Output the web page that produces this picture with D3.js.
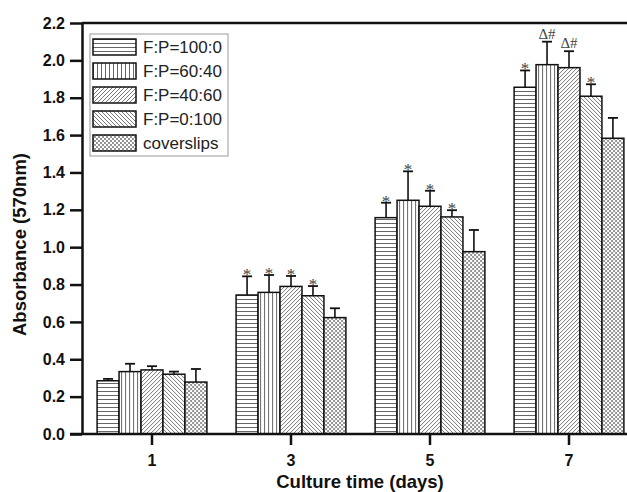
<!DOCTYPE html>
<html>
<head>
<meta charset="utf-8">
<script src="https://cdn.jsdelivr.net/npm/d3@7"></script>
<style>
  body { margin: 0; background: #fff; }
  svg { display: block; }
</style>
</head>
<body>
<svg id="chart" width="627" height="492"></svg>
<script>
// data
var days = ["1", "3", "5", "7"];
var groups = ["F:P=100:0", "F:P=60:40", "F:P=40:60", "F:P=0:100", "coverslips"];
var means = [
  [0.285, 0.334, 0.343, 0.320, 0.278],   // day 1
  [0.744, 0.758, 0.790, 0.740, 0.623],   // day 3
  [1.158, 1.251, 1.219, 1.162, 0.976],   // day 5
  [1.856, 1.977, 1.961, 1.808, 1.583]    // day 7
];
var errs = [
  [0.010, 0.042, 0.020, 0.014, 0.070],
  [0.100, 0.093, 0.056, 0.052, 0.050],
  [0.080, 0.155, 0.083, 0.036, 0.116],
  [0.090, 0.123, 0.088, 0.064, 0.109]
];
var marks = [
  ["", "", "", "", ""],
  ["*", "*", "*", "*", ""],
  ["*", "*", "*", "*", ""],
  ["*", "\u0394#", "\u0394#", "*", ""]
];
var yTicks = [0, 0.2, 0.4, 0.6, 0.8, 1.0, 1.2, 1.4, 1.6, 1.8, 2.0, 2.2];

var svg = d3.select("#chart"),
    margin = {top: 23, right: 0, bottom: 58, left: 82},
    width = +svg.attr("width") - margin.left - margin.right,
    height = +svg.attr("height") - margin.top - margin.bottom,
    g = svg.append("g").attr("transform", "translate(" + margin.left + "," + margin.top + ")");

// hatch patterns
var defs = svg.append("defs");
var hatchCol = "#666";
function pat(id, size, draw) {
  var p = defs.append("pattern").attr("id", id)
    .attr("patternUnits", "userSpaceOnUse")
    .attr("width", size).attr("height", size);
  p.append("rect").attr("width", size).attr("height", size).attr("fill", "#fff");
  draw(p);
}
pat("p0", 4, function(p) {
  p.append("line").attr("x1", 0).attr("x2", 4).attr("y1", 0.5).attr("y2", 0.5)
    .attr("stroke", hatchCol).attr("stroke-width", 1);
});
pat("p1", 4, function(p) {
  p.append("line").attr("y1", 0).attr("y2", 4).attr("x1", 0.5).attr("x2", 0.5)
    .attr("stroke", hatchCol).attr("stroke-width", 1);
});
pat("p2", 4, function(p) {
  p.append("path").attr("d", "M-1,1 l2,-2 M0,4 l4,-4 M3,5 l2,-2")
    .attr("stroke", hatchCol).attr("stroke-width", 0.9);
});
pat("p3", 4, function(p) {
  p.append("path").attr("d", "M-1,3 l2,2 M0,0 l4,4 M3,-1 l2,2")
    .attr("stroke", hatchCol).attr("stroke-width", 0.9);
});
pat("p4", 4, function(p) {
  p.append("path").attr("d", "M-1,1 l2,-2 M0,4 l4,-4 M3,5 l2,-2 M-1,3 l2,2 M0,0 l4,4 M3,-1 l2,2")
    .attr("stroke", hatchCol).attr("stroke-width", 0.7);
});

var x0 = d3.scaleBand()
    .domain(days)
    .range([0.5, 556.5])
    .paddingInner(0.21)
    .paddingOuter(0.105);

var x1 = d3.scaleBand()
    .domain(d3.range(groups.length))
    .range([0, x0.bandwidth()]);

var y = d3.scaleLinear()
    .domain([0, 2.2])
    .range([height, 0]);

// bars
var dayG = g.append("g").selectAll("g")
  .data(days)
  .enter().append("g")
    .attr("transform", function(d) { return "translate(" + x0(d) + ",0)"; });

var items = dayG.selectAll("g")
  .data(function(d, i) {
    return groups.map(function(s, j) { return {j: j, v: means[i][j], e: errs[i][j], m: marks[i][j]}; });
  })
  .enter().append("g");

// error bars (upper only)
items.append("line")
    .attr("x1", function(d) { return x1(d.j) + x1.bandwidth() / 2; })
    .attr("x2", function(d) { return x1(d.j) + x1.bandwidth() / 2; })
    .attr("y1", function(d) { return y(d.v); })
    .attr("y2", function(d) { return y(d.v + d.e); })
    .attr("stroke", "#111").attr("stroke-width", 1.6);
items.append("line")
    .attr("x1", function(d) { return x1(d.j) + x1.bandwidth() / 2 - 5; })
    .attr("x2", function(d) { return x1(d.j) + x1.bandwidth() / 2 + 5; })
    .attr("y1", function(d) { return y(d.v + d.e); })
    .attr("y2", function(d) { return y(d.v + d.e); })
    .attr("stroke", "#111").attr("stroke-width", 1.8);

items.append("rect")
    .attr("x", function(d) { return x1(d.j); })
    .attr("y", function(d) { return y(d.v); })
    .attr("width", x1.bandwidth())
    .attr("height", function(d) { return height - y(d.v); })
    .attr("fill", function(d) { return "url(#p" + d.j + ")"; })
    .attr("stroke", "#111").attr("stroke-width", 1.5);

// significance marks
items.filter(function(d) { return d.m; }).append("text")
    .attr("x", function(d) { return x1(d.j) + x1.bandwidth() / 2; })
    .attr("y", function(d) { return y(d.v + d.e) - (d.m === "*" ? -4 : 3); })
    .attr("text-anchor", "middle")
    .attr("font-family", "'Liberation Serif', 'DejaVu Serif', serif")
    .attr("font-size", function(d) { return d.m === "*" ? 17 : 15; })
    .attr("fill", "#444")
    .style("-webkit-font-smoothing", "antialiased")
    .text(function(d) { return d.m; });

// axes
var yAxis = g.append("g")
    .call(d3.axisLeft(y).tickValues(yTicks).tickFormat(d3.format(".1f")).tickSize(12).tickSizeOuter(0));
var xAxis = g.append("g")
    .attr("transform", "translate(0," + height + ")")
    .call(d3.axisBottom(x0).tickSize(11).tickSizeOuter(0));

[yAxis, xAxis].forEach(function(a) {
  a.select(".domain").attr("stroke", "#111").attr("stroke-width", 2.5);
  a.selectAll(".tick line").attr("stroke", "#111").attr("stroke-width", 2.5);
  a.selectAll("text")
    .attr("font-family", "'Liberation Sans', Arial, sans-serif")
    .attr("font-weight", "bold").attr("font-size", 16).attr("fill", "#111");
});
yAxis.selectAll(".tick text").attr("x", -17);
xAxis.selectAll(".tick text").attr("y", 21);
xAxis.select(".domain").attr("d", "M-12,0H" + width);

// top frame line
g.append("line")
    .attr("x1", 0).attr("x2", width)
    .attr("y1", 0).attr("y2", 0)
    .attr("stroke", "#111").attr("stroke-width", 2.5);

// axis titles
svg.append("text")
    .attr("transform", "translate(26," + (margin.top + height / 2 + 16) + ") rotate(-90)")
    .attr("text-anchor", "middle")
    .attr("font-family", "'Liberation Sans', Arial, sans-serif")
    .attr("font-weight", "bold").attr("font-size", 18.5).attr("fill", "#111")
    .text("Absorbance (570nm)");
svg.append("text")
    .attr("x", 360).attr("y", 488)
    .attr("text-anchor", "middle")
    .attr("font-family", "'Liberation Sans', Arial, sans-serif")
    .attr("font-weight", "bold").attr("font-size", 18.5).attr("fill", "#111")
    .text("Culture time (days)");

// legend
var legend = svg.append("g").attr("transform", "translate(90,34)");
legend.append("rect")
    .attr("width", 138).attr("height", 122)
    .attr("fill", "#fff").attr("stroke", "#999").attr("stroke-width", 1);
var li = legend.selectAll("g.item")
  .data(groups)
  .enter().append("g").attr("class", "item")
    .attr("transform", function(d, i) { return "translate(3," + (5 + i * 24) + ")"; });
li.append("rect")
    .attr("width", 43).attr("height", 16)
    .attr("fill", function(d, i) { return "url(#p" + i + ")"; })
    .attr("stroke", "#111").attr("stroke-width", 1.5);
li.append("text")
    .attr("x", 50).attr("y", 8).attr("dy", "0.36em")
    .attr("font-family", "'Liberation Sans', Arial, sans-serif")
    .attr("font-size", 17).attr("fill", "#222")
    .text(function(d) { return d; });
</script>
</body>
</html>
